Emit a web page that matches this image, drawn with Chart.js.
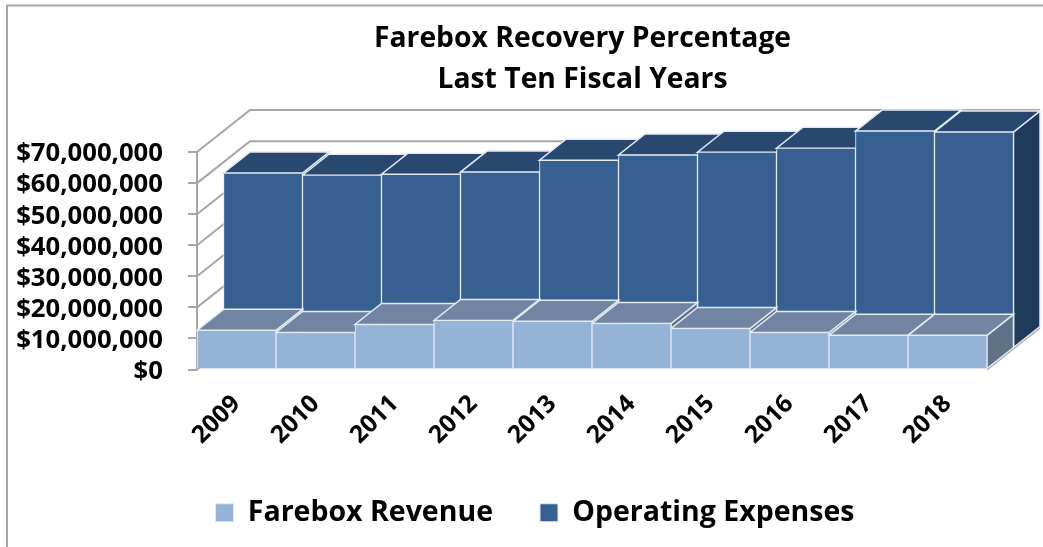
<!DOCTYPE html>
<html><head><meta charset="utf-8">
<style>html,body{margin:0;padding:0;background:#fff}canvas{display:block}</style>
<script src="https://cdn.jsdelivr.net/npm/chart.js@4"></script>
</head><body><canvas id="c" width="1043" height="547"></canvas>
<script>
const categories=['2009','2010','2011','2012','2013','2014','2015','2016','2017','2018'];
const fareboxRevenue=[12600000,11900000,14500000,15800000,15500000,14800000,13200000,11900000,11000000,11000000];
const operatingExpenses=[56500000,55800000,56100000,56800000,60600000,62300000,63200000,64500000,70000000,69700000];
const yTickLabels=['$0','$10,000,000','$20,000,000','$30,000,000','$40,000,000','$50,000,000','$60,000,000','$70,000,000'];
const titleLines=['Farebox Recovery Percentage','Last Ten Fiscal Years'];
const FONT='"Open Sans"';
const DX=26.5,DY=21,GRID='#A6A6A6',EDGE='#E4EAF2';
const faces=[{top:'#7184A1',side:'#5F7288'},{top:'#294870',side:'#203A5A'}];
function poly(ctx,pts,fill){ctx.beginPath();pts.forEach((p,i)=>i?ctx.lineTo(p[0],p[1]):ctx.moveTo(p[0],p[1]));ctx.closePath();ctx.fillStyle=fill;ctx.fill();ctx.strokeStyle=EDGE;ctx.lineWidth=1.5;ctx.stroke();}
const threeD={id:'threeD',
 afterLayout(chart){
  const t=chart.titleBlock;t.left=0;t.right=1165;
  const l=chart.legend;l.left=0;l.right=1070;
 },
 beforeDraw(chart){
  const {ctx,chartArea:a,scales:{y}}=chart;
  ctx.save();
  ctx.fillStyle='#fff';ctx.fillRect(0,0,1043,547);
  ctx.strokeStyle=GRID;ctx.lineWidth=2;
  ctx.beginPath();ctx.moveTo(7,547);ctx.lineTo(7,5.5);ctx.lineTo(1043,5.5);ctx.stroke();
  ctx.beginPath();
  y.ticks.forEach(t=>{const p=y.getPixelForValue(t.value);
   ctx.moveTo(a.left,p);ctx.lineTo(a.left+2*DX,p-2*DY);ctx.lineTo(a.right+2*DX,p-2*DY);});
  ctx.moveTo(a.right,a.bottom);ctx.lineTo(a.right+2*DX,a.bottom-2*DY);
  ctx.stroke();
  ctx.restore();
 },
 beforeDatasetDraw(chart,args){
  const {ctx}=chart,i=args.index,f=faces[i],ox=DX*i,oy=-DY*i;
  ctx.save();ctx.translate(ox,oy);
  chart.getDatasetMeta(i).data.forEach(b=>{
   const x0=b.x-b.width/2,x1=b.x+b.width/2;
   poly(ctx,[[x1,b.y],[x1+DX,b.y-DY],[x1+DX,b.base-DY],[x1,b.base]],f.side);
   poly(ctx,[[x0,b.y],[x1,b.y],[x1+DX,b.y-DY],[x0+DX,b.y-DY]],f.top);
  });
 },
 afterDatasetDraw(chart){chart.ctx.restore();}
};
new Chart(document.getElementById('c'),{type:'bar',
 data:{labels:categories,datasets:[
  {label:'Farebox Revenue',data:fareboxRevenue,backgroundColor:'#95B3D7',borderColor:EDGE,borderWidth:1,clip:false},
  {label:'Operating Expenses',data:operatingExpenses,backgroundColor:'#366092',borderColor:EDGE,borderWidth:1,clip:false}]},
 plugins:[threeD],
 options:{responsive:false,animation:false,
  layout:{autoPadding:false,padding:{left:0,right:56,top:0,bottom:10}},
  datasets:{bar:{grouped:false,categoryPercentage:1,barPercentage:1}},
  plugins:{
   tooltip:{enabled:false},
   title:{display:true,text:titleLines,color:'#000',font:{family:FONT,size:28.3,weight:'700',lineHeight:1.45},padding:{top:18,bottom:52}},
   legend:{position:'bottom',labels:{color:'#000',font:{family:FONT,size:28.5,weight:'700'},boxWidth:18,boxHeight:18,padding:47}}
  },
  scales:{
   x:{grid:{display:false},border:{display:false},
      ticks:{color:'#000',font:{family:FONT,size:24.5,weight:'700'},minRotation:45,maxRotation:45,padding:12},
      afterFit(s){s.height=82;}},
   y:{min:0,max:70000000,grid:{drawOnChartArea:false,color:GRID,lineWidth:2,tickLength:9},border:{color:GRID,width:2},
      ticks:{autoSkip:false,stepSize:10000000,color:'#000',font:{family:FONT,size:25.7,weight:'700'},padding:25,labelOffset:2,callback:(v,i)=>yTickLabels[i]},
      afterFit(s){s.width=197;}}
  }}});
</script></body></html>
